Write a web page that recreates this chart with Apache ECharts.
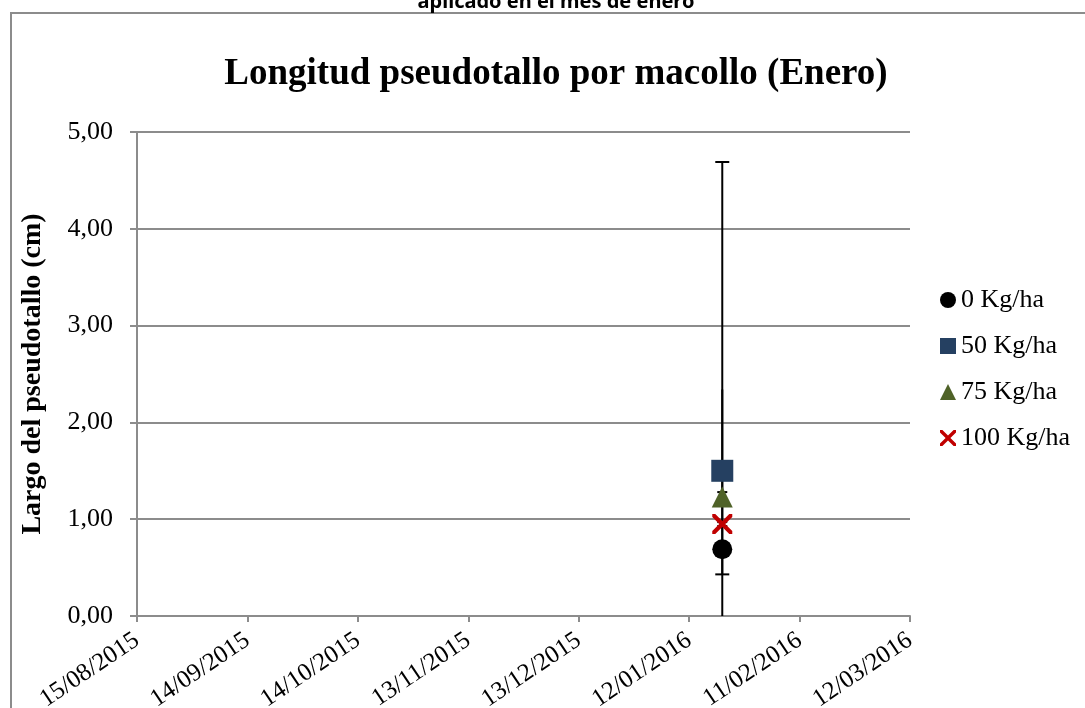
<!DOCTYPE html>
<html>
<head>
<meta charset="utf-8">
<script src="https://cdn.jsdelivr.net/npm/echarts@6/dist/echarts.min.js"></script>
<style>
  html, body { margin: 0; padding: 0; background: #fff; }
  #chart { width: 1085px; height: 708px; }
</style>
</head>
<body>
<div id="chart"></div>
<script>
// fecha base del eje x (dias desde esta fecha)
const baseDate = '2015-08-15'
const sampleDate = '2016-01-21'
const seriesNames = ['0 Kg/ha', '50 Kg/ha', '75 Kg/ha', '100 Kg/ha']
const means = [0.69, 1.50, 1.23, 0.95]
const errPlus = [4.00, 0.84, 0.05, 0.02]
const errMinus = [0.26, 1.50, 0.05, 0.02]
const yTicks = [0, 1, 2, 3, 4, 5]

const colors = ['#000000', '#254061', '#4F6228', '#C00000']
const symbols = [
    'circle',
    'rect',
    'triangle',
    'path://M0,0 L3,0 L10,7 L17,0 L20,0 L20,3 L13,10 L20,17 L20,20 L17,20 L10,13 L3,20 L0,20 L0,17 L7,10 L0,3 Z',
]
const symbolSizes = [20, 22, 21, 20]
const capHalf = [7, 0, 5, 5]

const DAY = 86400000
const toDays = (s) => Math.round((Date.parse(s + 'T00:00:00Z') - Date.parse(baseDate + 'T00:00:00Z')) / DAY)
const fmtDate = (d) => {
    const t = new Date(Date.parse(baseDate + 'T00:00:00Z') + d * DAY)
    const dd = String(t.getUTCDate()).padStart(2, '0')
    const mm = String(t.getUTCMonth() + 1).padStart(2, '0')
    return dd + '/' + mm + '/' + t.getUTCFullYear()
}

const xDay = toDays(sampleDate)
const serif = 'Liberation Serif'

const chart = echarts.init(document.getElementById('chart'))

const scatterSeries = seriesNames.map((name, i) => ({
    name: name,
    type: 'scatter',
    data: [[xDay, means[i]]],
    symbol: symbols[i],
    symbolSize: symbolSizes[i],
    itemStyle: { color: colors[i], opacity: 1 },
    z: 5,
}))

const errorSeries = {
    type: 'custom',
    name: 'error',
    z: 3,
    clip: true,
    data: seriesNames.map((n, i) => [xDay, Math.max(0, means[i] - errMinus[i]), means[i] + errPlus[i], i]),
    renderItem: (params, api) => {
        const i = api.value(3)
        const lo = api.coord([api.value(0), api.value(1)])
        const hi = api.coord([api.value(0), api.value(2)])
        const w = capHalf[i]
        const style = { stroke: '#000', lineWidth: 2 }
        const children = [{ type: 'line', shape: { x1: lo[0], y1: lo[1], x2: hi[0], y2: hi[1] }, style }]
        if (w > 0) {
            children.push({ type: 'line', shape: { x1: hi[0] - w, y1: hi[1], x2: hi[0] + w, y2: hi[1] }, style })
            children.push({ type: 'line', shape: { x1: lo[0] - w, y1: lo[1], x2: lo[0] + w, y2: lo[1] }, style })
        }
        return { type: 'group', children }
    },
}

const option = {
    animation: false,
    backgroundColor: '#fff',
    title: {
        text: 'Longitud pseudotallo por macollo (Enero)',
        left: 551,
        top: 51,
        textAlign: 'center',
        textStyle: { fontFamily: serif, fontSize: 37, fontWeight: 'bold', color: '#000' },
    },
    graphic: [
        {
            type: 'rect',
            shape: { x: 11, y: 13, width: 1100, height: 720 },
            style: { fill: 'none', stroke: '#8c8c8c', lineWidth: 2 },
            silent: true,
        },
        {
            type: 'text',
            x: 556,
            y: 12,
            style: {
                text: 'aplicado en el mes de enero',
                font: 'bold 20px "Noto Sans"',
                fill: '#000',
                align: 'center',
                verticalAlign: 'bottom',
            },
        },
    ],
    legend: {
        orient: 'vertical',
        left: 935,
        top: 282,
        itemGap: 20,
        itemWidth: 16,
        itemHeight: 16,
        data: seriesNames,
        textStyle: { fontFamily: serif, fontSize: 26, color: '#000' },
    },
    grid: { left: 137, right: 175, top: 132, bottom: 92, outerBoundsMode: 'none', containLabel: false },
    xAxis: {
        type: 'value',
        min: 0,
        max: 210,
        interval: 30,
        axisLine: { show: true, onZero: false, lineStyle: { color: '#8c8c8c', width: 2 } },
        axisTick: { show: true, length: 6, lineStyle: { color: '#8c8c8c', width: 2 } },
        splitLine: { show: false },
        axisLabel: {
            rotate: 34,
            margin: 22,
            formatter: fmtDate,
            fontFamily: serif,
            fontSize: 25,
            color: '#000',
        },
    },
    yAxis: {
        type: 'value',
        min: yTicks[0],
        max: yTicks[yTicks.length - 1],
        interval: 1,
        name: 'Largo del pseudotallo (cm)',
        nameLocation: 'middle',
        nameRotate: 90,
        nameGap: 90,
        nameTextStyle: { fontFamily: serif, fontSize: 28, fontWeight: 'bold', color: '#000' },
        axisLine: { show: true, lineStyle: { color: '#8c8c8c', width: 2 } },
        axisTick: { show: true, length: 7, lineStyle: { color: '#8c8c8c', width: 2 } },
        splitLine: { show: true, lineStyle: { color: '#8c8c8c', width: 2 } },
        axisLabel: {
            margin: 24,
            formatter: (v) => v.toFixed(2).replace('.', ','),
            fontFamily: serif,
            fontSize: 26,
            color: '#000',
        },
    },
    series: [errorSeries, ...scatterSeries],
}

chart.setOption(option)
</script>
</body>
</html>
